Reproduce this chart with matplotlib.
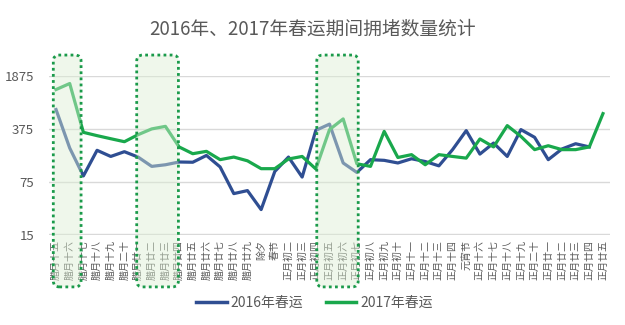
import matplotlib
matplotlib.use("Agg")
import matplotlib.pyplot as plt
from matplotlib.patches import FancyBboxPatch
from matplotlib.transforms import IdentityTransform
from matplotlib.lines import Line2D

plt.rcParams['font.family'] = ['Noto Sans CJK SC', 'DejaVu Sans']

# lunar calendar days around the Spring Festival
days = ['腊月十五', '腊月十六', '腊月十七', '腊月十八', '腊月十九', '腊月二十',
        '腊月廿一', '腊月廿二', '腊月廿三', '腊月廿四', '腊月廿五', '腊月廿六',
        '腊月廿七', '腊月廿八', '腊月廿九', '除夕', '春节', '正月初二', '正月初三',
        '正月初四', '正月初五', '正月初六', '正月初七', '正月初八', '正月初九',
        '正月初十', '正月十一', '正月十二', '正月十三', '正月十四', '元宵节',
        '正月十六', '正月十七', '正月十八', '正月十九', '正月二十', '正月廿一',
        '正月廿二', '正月廿三', '正月廿四', '正月廿五']

# congestion counts per day
jams_2016 = [670, 208, 89, 194, 161, 186, 158, 119, 125, 136,
             135, 166, 117, 52, 57, 32, 102, 158, 86, 356,
             430, 132, 99, 146, 143, 132, 150, 138, 121, 198,
             353, 173, 242, 161, 364, 288, 146, 202, 237, 215]
jams_2017 = [1231, 1478, 335, 303, 276, 252, 312, 372, 402, 215,
             175, 188, 146, 158, 141, 111, 111, 149, 161, 110,
             364, 504, 129, 119, 345, 156, 170, 125, 170, 161,
             153, 274, 215, 411, 296, 198, 223, 198, 198, 215, 592]

y_ticks = [15, 75, 375, 1875]

# highlighted periods (first / last category index, with a little slack)
highlights = [(-0.2, 1.83), (5.9, 8.95), (19.07, 22.1)]

BLUE = '#2f4e92'
GREEN = '#19a84c'
GRAY = '#595959'

fig = plt.figure(figsize=(6.25, 3.25), dpi=100)
ax = fig.add_axes([49.2 / 625, (325 - 234.5) / 325, 560.6 / 625, 158.8 / 325])

x16 = range(len(jams_2016))
x17 = range(len(jams_2017))
ax.plot(x16, jams_2016, color=BLUE, lw=2.3, solid_joinstyle='round', zorder=3)
ax.plot(x17, jams_2017, color=GREEN, lw=2.3, solid_joinstyle='round', zorder=3)

ax.set_yscale('log')
ax.set_ylim(15, 1875)
ax.set_xlim(-0.5, len(days) - 0.5)
ax.set_yticks(y_ticks)
ax.set_yticklabels([str(v) for v in y_ticks])
ax.yaxis.set_minor_locator(matplotlib.ticker.NullLocator())
ax.set_xticks(range(len(days)))
ax.set_xticklabels(days, rotation=90, fontsize=7.2, color=GRAY)
ax.tick_params(axis='y', length=0, pad=11, labelsize=9.5, labelcolor=GRAY)
ax.tick_params(axis='x', length=0, pad=4)
for v in y_ticks:
    ax.axhline(v, color='#d9d9d9', lw=1, zorder=1)
for s in ax.spines.values():
    s.set_visible(False)

fig.text(0.5, (325 - 29) / 325, '2016年、2017年春运期间拥堵数量统计',
         ha='center', va='center', fontsize=13.5, color=GRAY)

# dotted rounded boxes marking the peak periods, drawn in pixel space
for x0, x1 in highlights:
    px0 = ax.transData.transform((x0, 1))[0]
    px1 = ax.transData.transform((x1, 1))[0]
    py0 = ax.transAxes.transform((0, -0.33))[1]
    py1 = ax.transAxes.transform((0, 1.13))[1]
    fill = FancyBboxPatch((px0, py0), px1 - px0, py1 - py0,
                          boxstyle='round,pad=0,rounding_size=6',
                          transform=IdentityTransform(), facecolor='#dcefd3',
                          edgecolor='none', alpha=0.45, zorder=4)
    edge = FancyBboxPatch((px0, py0), px1 - px0, py1 - py0,
                          boxstyle='round,pad=0,rounding_size=6',
                          transform=IdentityTransform(), facecolor='none',
                          edgecolor='#1a9a4a', lw=2, linestyle=(0, (1, 1.2)),
                          zorder=5)
    fig.add_artist(fill)
    fig.add_artist(edge)

handles = [Line2D([], [], color=BLUE, lw=2.5), Line2D([], [], color=GREEN, lw=2.5)]
leg = fig.legend(handles, ['2016年春运', '2017年春运'], loc='center',
                 bbox_to_anchor=(0.503, (325 - 303) / 325), ncol=2, frameon=False,
                 fontsize=10, handlelength=2.2, handletextpad=0.3, columnspacing=1.6)
for t in leg.get_texts():
    t.set_color(GRAY)

fig.savefig('out.png', dpi=100)
